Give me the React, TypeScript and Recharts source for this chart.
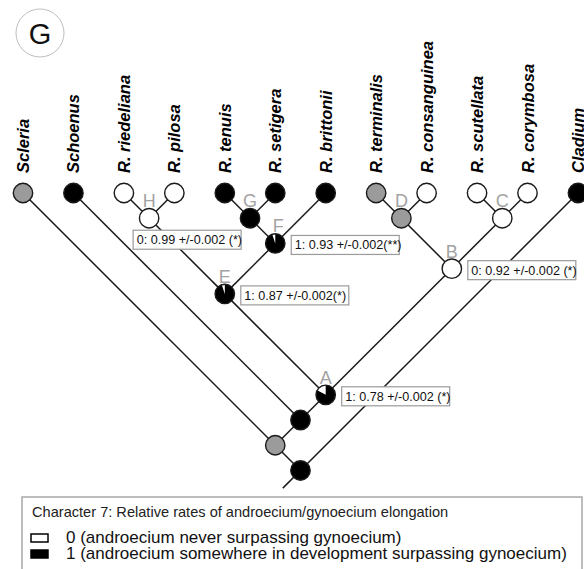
import React from "react";
import { ScatterChart, Scatter, XAxis, YAxis } from "recharts";

// tips, left to right
const tipNames = [
  "Scleria",
  "Schoenus",
  "R. riedeliana",
  "R. pilosa",
  "R. tenuis",
  "R. setigera",
  "R. brittonii",
  "R. terminalis",
  "R. consanguinea",
  "R. scutellata",
  "R. corymbosa",
  "Cladium",
];
// "0" white, "1" black, "?" grey (equivocal)
const tipStates = ["?", "1", "0", "0", "1", "1", "1", "?", "0", "0", "0", "1"];

// internal nodes given as the span of tips they hold
const cladeSpans: [number, number][] = [
  [2, 3],
  [4, 5],
  [4, 6],
  [2, 6],
  [7, 8],
  [9, 10],
  [7, 10],
  [2, 10],
  [1, 10],
  [0, 10],
  [0, 11],
];
const cladeLetters = ["H", "G", "F", "E", "D", "C", "B", "A", "", "", ""];
const cladeStates = ["0", "1", "1", "1", "?", "0", "0", "1", "1", "?", "1"];
const cladeWhiteShare = [0, 0, 0.05, 0.05, 0, 0, 0, 0.17, 0, 0, 0];
const cladeNotes = [
  "0: 0.99 +/-0.002 (*)",
  "",
  "1: 0.93 +/-0.002(**)",
  "1: 0.87 +/-0.002(*)",
  "",
  "",
  "0: 0.92 +/-0.002 (*)",
  "1: 0.78 +/-0.002 (*)",
  "",
  "",
  "",
];
const rootStem = 0.35;

const legendTitle =
  "Character 7: Relative rates of androecium/gynoecium elongation";
const legendStates = ["0", "1"];
const legendLabels = [
  "0 (androecium never surpassing gynoecium)",
  "1 (androecium somewhere in development surpassing gynoecium)",
];

type TreeNode = {
  x: number;
  y: number;
  lo: number;
  hi: number;
  name: string;
  letter: string;
  state: string;
  white: number;
  note: string;
  tip: boolean;
};

const nodes: TreeNode[] = [
  ...tipNames.map((name, i) => ({
    x: i,
    y: 0,
    lo: i,
    hi: i,
    name,
    letter: "",
    state: tipStates[i],
    white: 0,
    note: "",
    tip: true,
  })),
  ...cladeSpans.map(([lo, hi], i) => ({
    x: (lo + hi) / 2,
    y: (hi - lo) / 2,
    lo,
    hi,
    name: "",
    letter: cladeLetters[i],
    state: cladeStates[i],
    white: cladeWhiteShare[i],
    note: cladeNotes[i],
    tip: false,
  })),
];

// each node joins its smallest enclosing clade; the root gets a short stem
const edges = nodes.map((n) => {
  const parents = nodes.filter(
    (p) => !p.tip && p.lo <= n.lo && p.hi >= n.hi && p.hi - p.lo > n.hi - n.lo
  );
  if (!parents.length) return [{ x: n.x, y: n.y }, { x: n.x - rootStem, y: n.y + rootStem }];
  const p = parents.reduce((a, b) => (b.hi - b.lo < a.hi - a.lo ? b : a));
  return [{ x: n.x, y: n.y }, { x: p.x, y: p.y }];
});

const FONT = "'Liberation Sans', Arial, sans-serif";
const STEP = 50.45;
const R = 9.7;

const stateFill = (s: string) => (s === "1" ? "#000" : s === "0" ? "#fff" : "#9b9b9b");

const NodeShape = (props: any) => {
  const { cx, cy } = props;
  const n: TreeNode = props.payload ?? props;
  let wedge = null;
  if (n.white > 0) {
    const a = n.white * 2 * Math.PI;
    const px = cx - R * Math.sin(a);
    const py = cy - R * Math.cos(a);
    wedge = (
      <path
        d={`M${cx},${cy} L${cx},${cy - R} A${R},${R} 0 ${a > Math.PI ? 1 : 0} 0 ${px},${py} Z`}
        fill="#fff"
      />
    );
  }
  return (
    <g>
      <circle cx={cx} cy={cy} r={R} fill={stateFill(n.state)} />
      {wedge}
      <circle cx={cx} cy={cy} r={R} fill="none" stroke="#1a1a1a" strokeWidth={1.4} />
    </g>
  );
};

const LabelShape = (props: any) => {
  const { cx, cy } = props;
  const n: TreeNode = props.payload ?? props;
  if (n.tip) {
    const tx = cx + 6;
    const ty = cy - 20;
    return (
      <text
        x={tx}
        y={ty}
        transform={`rotate(-90 ${tx} ${ty})`}
        fontFamily={FONT}
        fontSize={16.5}
        fontWeight="bold"
        fontStyle="italic"
        fill="#000"
      >
        {n.name}
      </text>
    );
  }
  const below = n.letter === "H";
  const bw = 108;
  const bh = 19;
  const bx = below ? cx - 16 : cx + 16;
  const by = below ? cy + 12 : cy - 8;
  return (
    <g>
      {n.letter && (
        <text
          x={n.letter === "F" ? cx + 3 : cx}
          y={cy - 11}
          textAnchor="middle"
          fontFamily={FONT}
          fontSize={18}
          fill="#a3a3a3"
        >
          {n.letter}
        </text>
      )}
      {n.note && (
        <g>
          <rect x={bx} y={by} width={bw} height={bh} fill="#fff" stroke="#9a9a9a" strokeWidth={1.2} />
          <text x={bx + 3.5} y={by + 14} fontFamily={FONT} fontSize={12.6} fill="#111">
            {n.note}
          </text>
        </g>
      )}
    </g>
  );
};

export default function App() {
  return (
    <div
      style={{
        position: "absolute",
        left: 0,
        top: 0,
        width: 584,
        height: 569,
        overflow: "hidden",
        background: "#fff",
      }}
    >
      <ScatterChart width={584} height={569} margin={{ top: 0, right: 0, bottom: 0, left: 0 }}>
        <XAxis
          type="number"
          dataKey="x"
          domain={[-23 / STEP, 561 / STEP]}
          allowDataOverflow
          hide
        />
        <YAxis
          type="number"
          dataKey="y"
          domain={[-193 / STEP, 376 / STEP]}
          allowDataOverflow
          reversed
          hide
        />
        {edges.map((e, i) => (
          <Scatter
            key={"e" + i}
            data={e}
            line={{ stroke: "#1a1a1a", strokeWidth: 1.5 }}
            shape={() => <g />}
            isAnimationActive={false}
          />
        ))}
        <Scatter data={nodes} shape={NodeShape} isAnimationActive={false} />
        <Scatter data={nodes} shape={LabelShape} isAnimationActive={false} />
      </ScatterChart>
      <svg
        width={584}
        height={569}
        style={{ position: "absolute", left: 0, top: 0, pointerEvents: "none" }}
      >
        <circle cx={40} cy={33} r={24} fill="none" stroke="#bdbdbd" strokeWidth={1} />
        <text x={40} y={43.5} textAnchor="middle" fontFamily={FONT} fontSize={29} fill="#111">
          G
        </text>
        <rect x={22} y={497} width={560} height={90} fill="#fff" stroke="#a8a8a8" strokeWidth={1.5} />
        <text x={32} y={517} fontFamily={FONT} fontSize={14.6} fill="#222">
          {legendTitle}
        </text>
        {legendLabels.map((lab, i) => (
          <g key={lab}>
            <rect
              x={31}
              y={534 + i * 16}
              width={17}
              height={8}
              fill={stateFill(legendStates[i])}
              stroke="#000"
              strokeWidth={1.5}
            />
            <text x={66} y={543 + i * 16} fontFamily={FONT} fontSize={17} fill="#111">
              {lab}
            </text>
          </g>
        ))}
      </svg>
    </div>
  );
}
